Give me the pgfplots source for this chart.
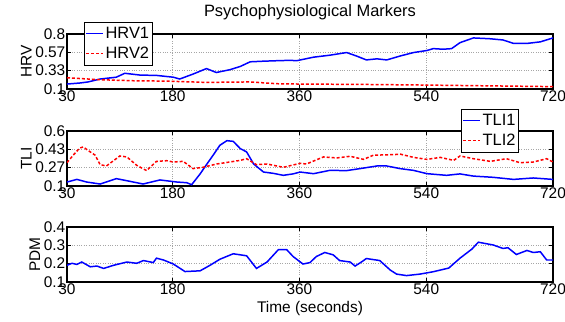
\documentclass[border=0pt]{standalone}
\usepackage{fontspec}
\setmainfont{Liberation Sans}
\usepackage{pgfplots}
\pgfplotsset{compat=1.18}
\definecolor{mblue}{RGB}{0,0,255}
\definecolor{mred}{RGB}{255,0,0}
\pgfplotsset{
  panel/.style={
    scale only axis, width=486bp, height=55bp,
    xmin=30, xmax=720,
    xtick={30,180,360,540,720},
    font=\fontsize{15.5}{18}\selectfont,
    /pgf/number format/assume math mode=true,
    tick align=inside, major tick length=4bp,
    axis line style={line width=1.1pt},
    every tick/.style={line width=0.8pt},
    grid=major, grid style={dotted, gray!70, line width=0.6pt},
    xticklabel style={inner sep=1.5pt},
    yticklabel style={inner sep=1.5pt},
    ylabel style={inner sep=2pt},
    legend cell align=left,
  },
  lg/.style={fill=white, draw=black, line width=1pt, inner ysep=3pt, inner xsep=1.5pt, outer sep=0pt, row sep=3.5pt, font=\fontsize{16.5}{18}\selectfont},
  bl/.style={color=mblue, line width=1.5pt, no markers},
  rd/.style={color=mred, line width=1.5pt, no markers, dash pattern=on 3pt off 2pt},
  lbl/.style={draw=mblue, color=mblue, line width=1.1pt, no markers, legend image code/.code={\draw[draw=mblue, line width=1.1pt] (0bp,0bp) -- (17bp,0bp);}},
  lrd/.style={draw=mred, color=mred, line width=1.1pt, no markers, legend image code/.code={\draw[draw=mred, line width=1.1pt, dash pattern=on 3pt off 2pt] (0bp,0bp) -- (17bp,0bp);}},
}
\begin{document}
\begin{tikzpicture}
\useasboundingbox (-67bp,-40bp) rectangle (498bp,282bp);
% Panel 1
\begin{axis}[panel, at={(0,193bp)}, anchor=south west,
  ymin=0.1, ymax=0.8, ytick={0.1,0.3333,0.5667,0.8}, yticklabels={0.1,0.33,0.57,0.8},
  ylabel={HRV},
  title={Psychophysiological Markers},
  title style={at={(0.5,1)}, anchor=base, yshift=12bp, font=\fontsize{16.5}{19}\selectfont},
  legend style={lg, at={(0.035,1.218)}, anchor=north west},
]
\addplot[bl, forget plot] coordinates {(30,0.163)(48,0.176)(60,0.19)(77,0.227)(100,0.25)(112,0.30)(134,0.277)(157,0.273)(181,0.25)(190,0.227)(209,0.29)(228,0.36)(242,0.31)(261,0.345)(276,0.387)(290,0.446)(309,0.454)(328,0.46)(347,0.465)(356,0.46)(380,0.505)(403,0.53)(427,0.564)(441,0.52)(455,0.47)(470,0.484)(484,0.47)(503,0.52)(522,0.564)(541,0.59)(550,0.614)(564,0.606)(576,0.614)(588,0.69)(607,0.75)(630,0.74)(649,0.724)(664,0.68)(683,0.68)(702,0.70)(720,0.75)};
\addplot[rd, forget plot] coordinates {(30,0.243)(77,0.218)(124,0.205)(171,0.20)(228,0.184)(290,0.19)(328,0.167)(361,0.163)(450,0.158)(541,0.15)(630,0.14)(720,0.13)};
\addlegendimage{lbl}
\addlegendentry{HRV1}
\addlegendimage{lrd}
\addlegendentry{HRV2}
\end{axis}
% Panel 2
\begin{axis}[panel, at={(0,96bp)}, anchor=south west,
  ymin=0.1, ymax=0.6, ytick={0.1,0.2667,0.4333,0.6}, yticklabels={0.1,0.27,0.43,0.6},
  ylabel={TLI},
  legend style={lg, at={(0.93,1.4)}, anchor=north east},
]
\addplot[bl, forget plot] coordinates {(30,0.136)(44,0.16)(58,0.136)(77,0.118)(100,0.167)(115,0.148)(138,0.118)(162,0.155)(186,0.136)(200,0.13)(207,0.112)(219,0.21)(228,0.294)(238,0.385)(247,0.47)(257,0.512)(266,0.506)(276,0.44)(285,0.41)(295,0.30)(309,0.227)(323,0.215)(337,0.197)(351,0.21)(361,0.227)(380,0.212)(403,0.242)(427,0.24)(446,0.258)(470,0.282)(484,0.282)(503,0.258)(522,0.242)(541,0.212)(569,0.197)(588,0.21)(607,0.19)(635,0.179)(664,0.16)(692,0.173)(720,0.16)};
\addplot[rd, forget plot] coordinates {(30,0.312)(39.5,0.385)(48,0.445)(53,0.455)(63,0.41)(70,0.38)(77,0.294)(86,0.282)(96,0.33)(105,0.373)(115,0.364)(129,0.288)(143,0.24)(157,0.324)(171.5,0.33)(181,0.318)(195,0.324)(209,0.258)(223,0.27)(242.5,0.30)(261,0.318)(276,0.333)(285,0.348)(299,0.294)(314,0.30)(337,0.27)(361,0.306)(370,0.30)(394,0.364)(413,0.355)(432,0.37)(451,0.342)(465,0.38)(494,0.385)(503,0.39)(522,0.36)(541,0.342)(560,0.36)(579,0.333)(588,0.373)(607,0.348)(631,0.324)(654,0.348)(673,0.312)(692,0.318)(711,0.348)(720,0.318)};
\addlegendimage{lbl}
\addlegendentry{TLI1}
\addlegendimage{lrd}
\addlegendentry{TLI2}
\end{axis}
% Panel 3
\begin{axis}[panel, at={(0,0)}, anchor=south west,
  ymin=0.1, ymax=0.4, ytick={0.1,0.2,0.3,0.4}, yticklabels={0.1,0.2,0.3,0.4},
  ylabel={PDM}, xlabel={Time (seconds)},
  xlabel style={inner sep=0pt, yshift=-5bp},
]
\addplot[bl] coordinates {(30,0.191)(37,0.202)(44,0.196)(51,0.209)(63,0.183)(72.5,0.187)(82,0.174)(96,0.191)(115,0.209)(129,0.202)(138.5,0.217)(152.5,0.206)(157,0.23)(167,0.22)(181,0.198)(197.5,0.157)(219,0.161)(233,0.191)(247,0.224)(266,0.254)(285,0.243)(299,0.174)(314,0.209)(330,0.276)(342,0.276)(351,0.239)(365,0.198)(375,0.206)(384,0.239)(396,0.261)(408,0.248)(417,0.217)(432,0.209)(439,0.187)(448,0.209)(455,0.228)(474,0.217)(489,0.165)(498,0.143)(512,0.135)(531,0.143)(550,0.156)(572,0.176)(588,0.23)(605,0.28)(614,0.317)(635,0.302)(649,0.283)(656,0.287)(668,0.25)(683,0.272)(692,0.261)(702,0.265)(711,0.22)(720,0.22)};
\end{axis}
\end{tikzpicture}
\end{document}
